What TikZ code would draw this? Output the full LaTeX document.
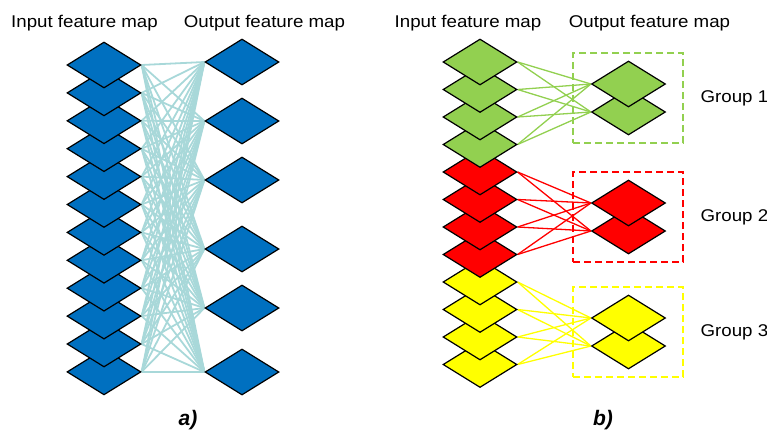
\documentclass[tikz,border=0pt]{standalone}
\usepackage{fontspec}
\setmainfont{Liberation Sans}
\usetikzlibrary{positioning, shapes.geometric, backgrounds}
\definecolor{MapBlue}{HTML}{0070C0}
\definecolor{LinkCyan}{HTML}{A8D8D9}
\definecolor{MapGreen}{HTML}{92D050}
\definecolor{MapRed}{HTML}{FF0000}
\definecolor{MapYellow}{HTML}{FFFF00}

\begin{document}
\begin{tikzpicture}[
    x=1pt, y=-1pt,
    fmap/.style={diamond, draw=black, line width=1.2pt, minimum width=74pt, minimum height=46pt, inner sep=0pt},
    link/.style={line width=1.8pt, color=LinkCyan},
    glink/.style={line width=1.3pt},
    grpbox/.style={dash pattern=on 7pt off 4pt, line width=1.5pt, minimum width=110pt, minimum height=90pt, inner sep=0pt},
    title/.style={anchor=base, xscale=1.1, transform shape},
    every node/.style={font=\fontsize{17}{20}\selectfont}
]
\useasboundingbox (0,0) rectangle (767,434);

% a) full connection
\node[title] (titInA) at (84.5,27) {Input feature map};
\node[title] (titOutA) at (264.5,27) {Output feature map};

\foreach \i in {12,...,1}
    \node[fmap, fill=MapBlue] (in\i) at (104,{65+(\i-1)*27.9}) {};
\foreach \j/\y in {6/372, 5/308, 4/249, 3/180, 2/121, 1/62}
    \node[fmap, fill=MapBlue] (out\j) at (242,\y) {};

\begin{scope}[on background layer]
\foreach \i in {1,...,12}
    \foreach \j in {1,...,6}
        \draw[link] (in\i.east) -- (out\j.west);
\end{scope}

\node[font=\fontsize{21}{22}\selectfont\bfseries\itshape] (capA) at (188,420) {a)};

% b) group connection
\node[title] (titInB) at (468,27) {Input feature map};
\node[title] (titOutB) at (649.5,27) {Output feature map};

\foreach \i/\c in {12/MapYellow, 11/MapYellow, 10/MapYellow, 9/MapYellow,
                   8/MapRed, 7/MapRed, 6/MapRed, 5/MapRed,
                   4/MapGreen, 3/MapGreen, 2/MapGreen, 1/MapGreen}
    \node[fmap, fill=\c] (gin\i) at (480,{62+(\i-1)*27.5}) {};

\foreach \g/\c/\y in {1/MapGreen/84, 2/MapRed/203, 3/MapYellow/318} {
    \node[fmap, fill=\c] (gout\g b) at (628.5,\y+28) {};
    \node[fmap, fill=\c] (gout\g a) at (628.5,\y) {};
    \node[grpbox, draw=\c] (box\g) at (628,\y+14) {};
    \node[right=13pt of box\g, xscale=1.1, transform shape] (lab\g) {Group \g};
    \begin{scope}[on background layer]
    \foreach \k in {1,...,4} {
        \pgfmathtruncatemacro{\i}{4*(\g-1)+\k}
        \draw[glink, color=\c] (gin\i.east) -- (gout\g a.west);
        \draw[glink, color=\c] (gin\i.east) -- (gout\g b.west);
    }
    \end{scope}
}

\node[font=\fontsize{21}{22}\selectfont\bfseries\itshape] (capB) at (603,420) {b)};

\end{tikzpicture}
\end{document}
